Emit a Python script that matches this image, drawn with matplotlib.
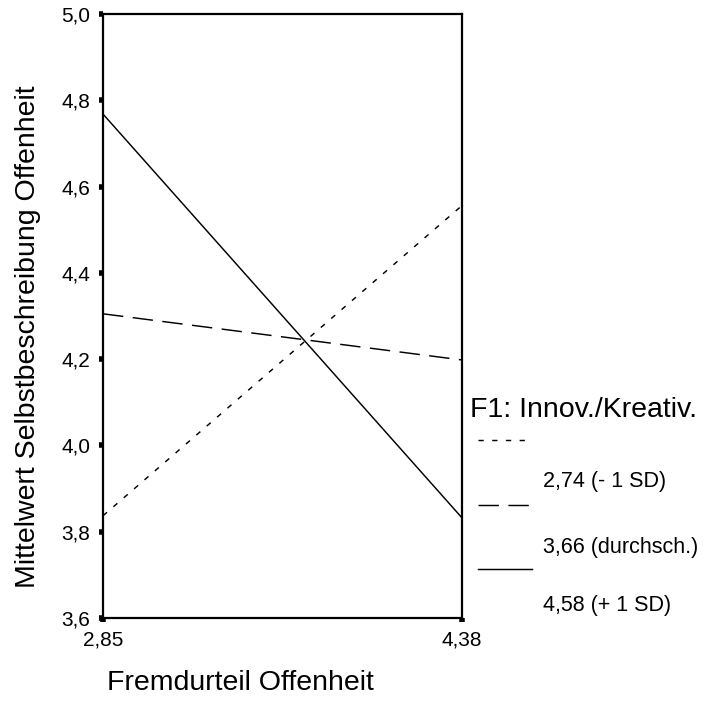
import matplotlib
matplotlib.use("Agg")
import matplotlib.pyplot as plt
from matplotlib.lines import Line2D

# ── Data ───────────────────────────────────────────────────────────────────
x_vals = [2.85, 4.38]
x_ticklabels = ["2,85", "4,38"]
y_ticks = [3.6, 3.8, 4.0, 4.2, 4.4, 4.6, 4.8, 5.0]
y_ticklabels = ["3,6", "3,8", "4,0", "4,2", "4,4", "4,6", "4,8", "5,0"]

group_labels = ["2,74 (- 1 SD)", "3,66 (durchsch.)", "4,58 (+ 1 SD)"]
low_sd = [3.837, 4.556]
mean_grp = [4.305, 4.198]
high_sd = [4.768, 3.832]

plt.rcParams["font.family"] = ["Liberation Sans", "DejaVu Sans"]

# ── Plot ───────────────────────────────────────────────────────────────────
fig = plt.figure(figsize=(7.07, 7.20), dpi=100)
ax = fig.add_axes([0.1457, 0.1417, 0.5078, 0.8389])

styles = [(3.6, 5.8), (14, 6.5), None]
series = [low_sd, mean_grp, high_sd]
for vals, dash in zip(series, styles):
    ln, = ax.plot(x_vals, vals, color="black", lw=1.05)
    if dash:
        ln.set_dashes(dash)

ax.set_xlim(x_vals[0], x_vals[1])
ax.set_ylim(y_ticks[0], y_ticks[-1])
ax.set_xticks(x_vals)
ax.set_xticklabels(x_ticklabels)
ax.set_yticks(y_ticks)
ax.set_yticklabels(y_ticklabels)
ax.tick_params(direction="out", length=3, width=4, labelsize=15, pad=6)
for s in ax.spines.values():
    s.set_linewidth(1.6)

fig.text(28 / 707, 1 - 337 / 720, "Mittelwert Selbstbeschreibung Offenheit",
         rotation=90, ha="center", va="center", fontsize=20.5)
fig.text(240 / 707, 1 - 683 / 720, "Fremdurteil Offenheit",
         ha="center", va="center", fontsize=20.5)

# ── Legend (SPSS style: labels sit below their line) ──────────────────────
fig.text(470 / 707, 1 - 410 / 720, "F1: Innov./Kreativ.",
         ha="left", va="center", fontsize=20.5)
line_y = [440, 505, 569]
text_y = [482, 547, 605]
for dash, ly, ty, lab in zip(styles, line_y, text_y, group_labels):
    ln = Line2D([478 / 707, 532 / 707], [1 - ly / 720, 1 - ly / 720],
                transform=fig.transFigure, color="black", lw=1.05)
    if dash:
        ln.set_dashes(dash)
    fig.add_artist(ln)
    fig.text(543 / 707, 1 - ty / 720, lab, ha="left", va="center", fontsize=15.5)

plt.savefig("out.png", dpi=100)
